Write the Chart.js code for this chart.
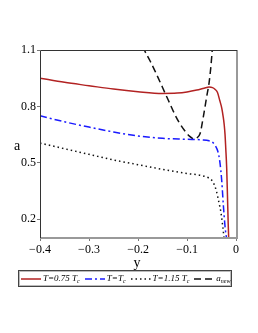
<!DOCTYPE html>
<html>
<head>
<meta charset="utf-8">
<script src="https://cdn.jsdelivr.net/npm/chart.js@4"></script>
<style>
  html, body { margin: 0; padding: 0; background: #fff; }
  #wrap { position: relative; width: 258px; height: 333px; }
  #legend {
    position: absolute; left: 18px; top: 270px; width: 212px; height: 15px;
    border: 1px solid #444; box-shadow: inset 0 0 0 1px #bbb;
    font-family: "Liberation Serif", serif; font-size: 9px; font-style: italic;
    display: flex; align-items: center; white-space: nowrap;
  }
  #legend .item { display: flex; align-items: center; margin-left: 2px; }
  #legend svg { margin-right: 2px; }
  #legend sub { font-size: 6px; vertical-align: -2px; }
</style>
</head>
<body>
<div id="wrap">
  <canvas id="c" width="258" height="333"></canvas>
  <div id="legend"></div>
</div>
<script>
// T = 0.75 Tc
const redX = [-0.4, -0.35, -0.3, -0.25, -0.2, -0.15, -0.12, -0.1, -0.08, -0.065, -0.055, -0.048, -0.043, -0.038, -0.033, -0.029, -0.026, -0.024, -0.0224, -0.021, -0.019, -0.0175, -0.016, -0.015];
const redY = [0.95, 0.928, 0.91, 0.892, 0.878, 0.869, 0.871, 0.877, 0.887, 0.897, 0.903, 0.9, 0.891, 0.875, 0.83, 0.79, 0.742, 0.70, 0.65, 0.58, 0.47, 0.33, 0.18, 0.1];

// T = Tc
const blueX = [-0.4, -0.35, -0.3, -0.25, -0.2, -0.15, -0.1, -0.07, -0.055, -0.047, -0.042, -0.037, -0.033, -0.029, -0.026, -0.022, -0.0195];
const blueY = [0.75, 0.718, 0.69, 0.664, 0.643, 0.63, 0.625, 0.622, 0.617, 0.607, 0.59, 0.56, 0.505, 0.40, 0.28, 0.15, 0.1];

// T = 1.15 Tc
const dotX = [-0.4, -0.35, -0.3, -0.25, -0.2, -0.15, -0.1, -0.07, -0.055, -0.047, -0.04, -0.035, -0.031, -0.027, -0.0245];
const dotY = [0.605, 0.575, 0.545, 0.515, 0.49, 0.465, 0.443, 0.432, 0.418, 0.398, 0.35, 0.29, 0.24, 0.16, 0.1];

// a_new
const newX = [-0.19, -0.187, -0.175, -0.165, -0.155, -0.145, -0.135, -0.125, -0.115, -0.105, -0.095, -0.087, -0.08, -0.0735, -0.067, -0.06, -0.055, -0.051, -0.0485, -0.047];
const newY = [1.12, 1.1, 1.04, 0.986, 0.93, 0.872, 0.815, 0.758, 0.71, 0.672, 0.642, 0.628, 0.633, 0.654, 0.74, 0.85, 0.925, 1.02, 1.1, 1.15];

const xTicks = [-0.4, -0.3, -0.2, -0.1, 0];
const yTicks = [0.2, 0.5, 0.8, 1.1];

const series = [
  { label: 'T=0.75 T_c', x: redX, y: redY, color: '#b22222', dash: [] },
  { label: 'T=T_c', x: blueX, y: blueY, color: '#1a1aff', dash: [7, 3, 2, 3] },
  { label: 'T=1.15 T_c', x: dotX, y: dotY, color: '#111', dash: [1.5, 3] },
  { label: 'a_new', x: newX, y: newY, color: '#111', dash: [7, 4] }
];

const pts = (xs, ys) => xs.map((v, i) => ({ x: v, y: ys[i] }));
const minus = v => (v === 0 ? '0' : String(v).replace('-', '\u2212'));

const frame = {
  id: 'frame',
  afterDatasetsDraw(chart) {
    const { ctx, chartArea: a } = chart;
    ctx.save();
    ctx.lineWidth = 2;
    ctx.strokeStyle = '#999';
    ctx.beginPath();
    ctx.moveTo(a.left, a.bottom); ctx.lineTo(a.right, a.bottom); ctx.lineTo(a.right, a.top);
    ctx.stroke();
    ctx.lineWidth = 1;
    ctx.strokeStyle = '#333';
    ctx.beginPath();
    ctx.moveTo(a.left + 0.5, a.bottom); ctx.lineTo(a.left + 0.5, a.top + 0.5); ctx.lineTo(a.right, a.top + 0.5);
    ctx.stroke();
    ctx.fillStyle = '#000';
    ctx.font = '14px "Liberation Serif"';
    ctx.textAlign = 'center';
    ctx.textBaseline = 'middle';
    ctx.fillText('a', 17, 146);
    ctx.fillText('y', 137, 263);
    ctx.restore();
  }
};

new Chart(document.getElementById('c'), {
  type: 'line',
  data: {
    datasets: series.map(s => ({
      label: s.label,
      data: pts(s.x, s.y),
      borderColor: s.color,
      borderDash: s.dash,
      borderWidth: 1.5,
      pointRadius: 0,
      fill: false,
      cubicInterpolationMode: 'monotone'
    }))
  },
  options: {
    responsive: false,
    animation: false,
    events: [],
    layout: { padding: { top: 50, right: 21, bottom: 0, left: 0 } },
    plugins: { legend: { display: false }, tooltip: { enabled: false } },
    scales: {
      x: {
        type: 'linear', min: -0.4, max: 0.002,
        afterFit: s => { s.height = 95; },
        afterBuildTicks: s => { s.ticks = xTicks.map(v => ({ value: v })); },
        grid: { drawOnChartArea: false, tickLength: 3, color: '#777' },
        border: { display: false },
        ticks: { color: '#000', padding: 2, maxRotation: 0, font: { family: 'Liberation Serif', size: 12 }, callback: v => minus(v) }
      },
      y: {
        type: 'linear', min: 0.1, max: 1.1,
        afterFit: s => { s.width = 40; },
        afterBuildTicks: s => { s.ticks = yTicks.map(v => ({ value: v })); },
        grid: { drawOnChartArea: false, tickLength: 3, color: '#777' },
        border: { display: false },
        ticks: { color: '#000', padding: 1, font: { family: 'Liberation Serif', size: 12 }, callback: v => v.toFixed(1) }
      }
    }
  },
  plugins: [frame]
});

// legend
const legend = document.getElementById('legend');
series.forEach((s, i) => {
  const item = document.createElement('span');
  item.className = 'item';
  if (i > 0) item.style.marginLeft = '5px';
  const w = 20;
  item.innerHTML =
    '<svg width="' + w + '" height="6"><line x1="0" y1="3" x2="' + w + '" y2="3" stroke="' + s.color +
    '" stroke-width="1.5" stroke-dasharray="' + (s.dash.length ? s.dash.join(' ') : 'none') + '"/></svg>';
  const txt = document.createElement('span');
  const parts = s.label.split('_');
  if (parts[0] === 'a') {
    txt.innerHTML = 'a<sub>new</sub>';
  } else {
    txt.innerHTML = parts[0].replace(/T/g, '<i>T</i>').replace('=', ' = ').replace(/ = /, '=') + (parts[1] ? '<sub>' + parts[1] + '</sub>' : '');
  }
  item.appendChild(txt);
  legend.appendChild(item);
});
</script>
</body>
</html>
